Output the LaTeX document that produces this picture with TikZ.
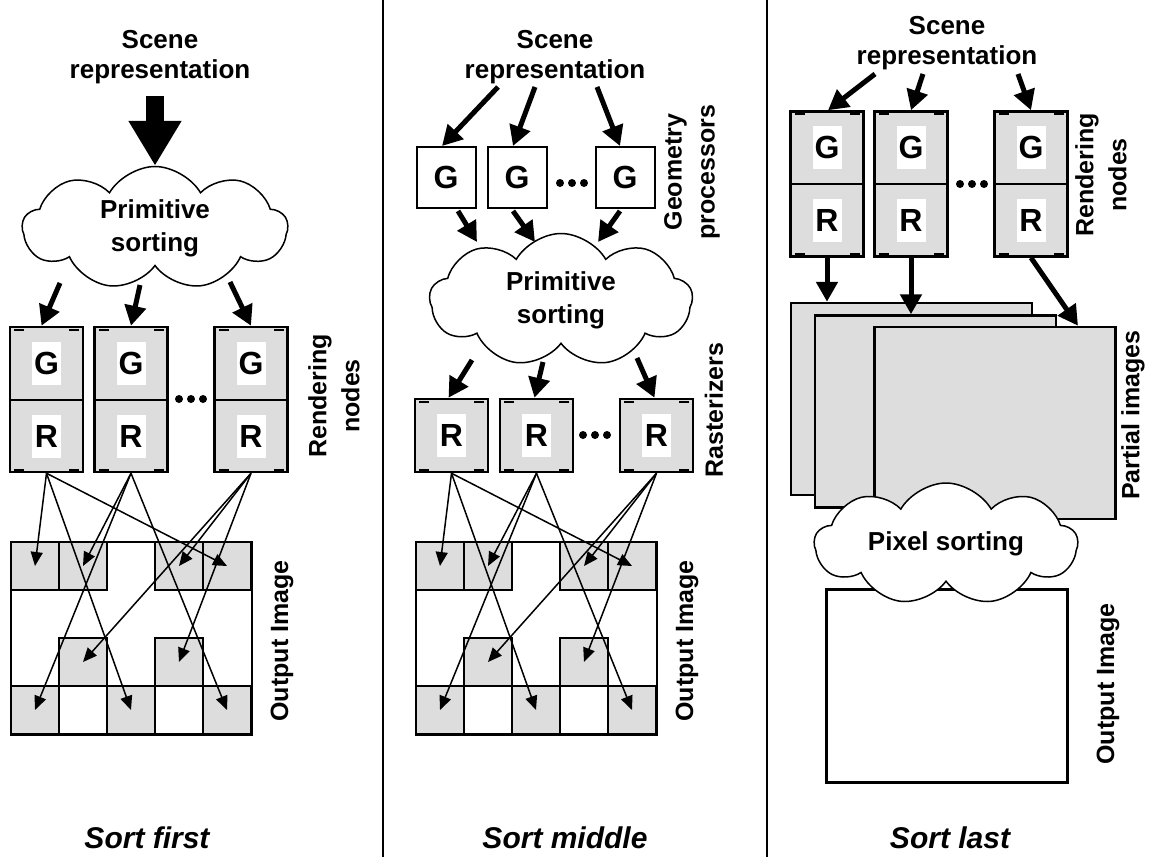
\documentclass[tikz,border=0pt]{standalone}
\usepackage{fontspec}
\setmainfont{Liberation Sans}
\usetikzlibrary{arrows.meta,shapes.symbols,calc}
\definecolor{boxgray}{HTML}{DDDDDD}

\tikzset{
    txt/.style={font=\fontsize{26}{30}\selectfont\bfseries, align=center, inner sep=0pt},
    side/.style={font=\fontsize{25}{33}\selectfont\bfseries, align=center, rotate=90, inner sep=0pt},
    caption/.style={font=\fontsize{30}{30}\selectfont\bfseries\itshape, inner sep=0pt},
    letter/.style={fill=white, font=\fontsize{32}{32}\selectfont\bfseries, minimum width=29pt, minimum height=43pt, inner sep=0pt},
    unit/.style={draw, line width=2.5pt, fill=boxgray, minimum width=73pt, minimum height=145pt, inner sep=0pt,
        path picture={\draw[line width=2pt]
            ([shift={(4pt,-2.5pt)}]path picture bounding box.north west) -- ++(10pt,0pt)
            ([shift={(-4pt,-2.5pt)}]path picture bounding box.north east) -- ++(-10pt,0pt)
            ([shift={(4pt,2.5pt)}]path picture bounding box.south west) -- ++(10pt,0pt)
            ([shift={(-4pt,2.5pt)}]path picture bounding box.south east) -- ++(-10pt,0pt);}},
    rbox/.style={unit, minimum height=73pt},
    gbox/.style={draw, line width=2pt, fill=white, minimum width=59pt, minimum height=61pt, inner sep=0pt,
        font=\fontsize{32}{32}\selectfont\bfseries},
    cell/.style={draw, line width=1.8pt, fill=boxgray, minimum size=48pt, inner sep=0pt},
    wcell/.style={cell, fill=white},
    frame/.style={draw, line width=2.5pt, minimum width=241pt, minimum height=193pt, inner sep=0pt},
    sheet/.style={draw, line width=2.5pt, fill=boxgray, minimum width=241pt, minimum height=192pt, inner sep=0pt},
    puff/.style={cloud, draw, line width=1.5pt, fill=white, cloud puffs=9, cloud puff arc=120, cloud ignores aspect,
        font=\fontsize{26}{33}\selectfont\bfseries, align=center},
    fat/.style={-{Triangle[length=20pt,width=21pt]}, line width=5pt},
    huge/.style={-{Triangle[length=45pt,width=50pt]}, line width=18pt},
    fan/.style={-{Triangle[length=14pt,width=12pt]}, line width=1.5pt},
    divider/.style={line width=1.5pt}
}

\begin{document}
\begin{tikzpicture}[x=1pt, y=-1pt]
    \useasboundingbox (0,0) rectangle (1151,857);

    % Trennlinien
    \draw[divider] (383,0) -- (383,857);
    \draw[divider] (767,0) -- (767,857);

    %%% Sort first
    \node[txt] (sa) at (160,57) {Scene\\representation};
    \node[puff, minimum width=265pt, minimum height=123pt] (ca) at (155,228) {Primitive\\sorting};
    \draw[huge] ($(sa.south)+(-5,12)$) -- (ca.north);

    \node[unit] (ra1) at (46.5,399.5) {};
    \node[unit] (ra2) at (131,399.5) {};
    \node[unit] (ra3) at (251,399.5) {};
    \foreach \n in {ra1,ra2,ra3} {
        \draw[line width=2pt] (\n.west) -- (\n.east);
        \node[letter] at ($(\n.center)+(0,-36.5)$) {G};
        \node[letter] at ($(\n.center)+(0,36.5)$) {R};
    }
    \coordinate (dotsa) at (191,399);
    \foreach \d in {-12,0,12} \fill ($(dotsa)+(\d,0)$) circle (4pt);

    \draw[fat] ($(ca.center)+(-95,55)$) -- ([xshift=-5pt]ra1.north);
    \draw[fat] ($(ca.center)+(-15,57)$) -- (ra2.north);
    \draw[fat] ($(ca.center)+(75,54)$) -- (ra3.north);

    \node[side] at (334,396) {Rendering\\nodes};

    %%% Sort middle
    \node[txt] (sb) at (555,57) {Scene\\representation};
    \node[gbox] (gb1) at (446,177.5) {G};
    \node[gbox] (gb2) at (517,177.5) {G};
    \node[gbox] (gb3) at (625,177.5) {G};
    \coordinate (dotsb) at (572,183);
    \foreach \d in {-12,0,12} \fill ($(dotsb)+(\d,0)$) circle (4pt);

    \draw[fat] ($(sb.south)+(-57,3)$) -- ([xshift=-4pt]gb1.north);
    \draw[fat] ($(sb.south)+(-20,3)$) -- ([xshift=-4pt]gb2.north);
    \draw[fat] ($(sb.south)+(42,3)$) -- ([xshift=-5pt]gb3.north);

    \node[side] at (692,172) {Geometry\\processors};

    \node[puff, minimum width=263pt, minimum height=133pt] (cb) at (561,300) {Primitive\\sorting};
    \draw[fat] ($(gb1.south)+(12,2)$) -- ($(cb.center)+(-84,-58)$);
    \draw[fat] ($(gb2.south)+(-4,2)$) -- ($(cb.center)+(-26,-58)$);
    \draw[fat] ($(gb3.south)+(-5,2)$) -- ($(cb.center)+(37,-58)$);

    \node[rbox] (rb1) at (451.5,435.5) {};
    \node[rbox] (rb2) at (536.5,435.5) {};
    \node[rbox] (rb3) at (656.5,435.5) {};
    \foreach \n in {rb1,rb2,rb3}
        \node[letter] at (\n.center) {R};
    \coordinate (dotsc) at (595,435);
    \foreach \d in {-12,0,12} \fill ($(dotsc)+(\d,0)$) circle (4pt);

    \draw[fat] ($(cb.center)+(-89,60)$) -- ([xshift=-3pt]rb1.north);
    \draw[fat] ($(cb.center)+(-18,62)$) -- ([xshift=-2pt]rb2.north);
    \draw[fat] ($(cb.center)+(76,58)$) -- ([xshift=-2pt]rb3.north);

    \node[side] at (714,410) {Rasterizers};

    % Ausgabebilder (Sort first / Sort middle)
    \foreach \p/\dx in {a/0, b/405} {
        \foreach \r/\c in {0/0,0/1,0/3,0/4,2/1,2/3,3/0,3/2,3/4}
            \node[cell] (\p-\r-\c) at (35+48*\c+\dx, 566+48*\r) {};
        \foreach \r/\c in {3/1,3/3}
            \node[wcell] (\p-\r-\c) at (35+48*\c+\dx, 566+48*\r) {};
        \node[frame] (out\p) at (131.5+\dx, 638.5) {};

        \draw[fan] (r\p1.south) -- (\p-0-0.center);
        \draw[fan] (r\p1.south) -- (\p-3-2.center);
        \draw[fan] (r\p1.south) -- (\p-0-4.center);
        \draw[fan] (r\p2.south) -- (\p-0-1.center);
        \draw[fan] (r\p2.south) -- (\p-3-0.center);
        \draw[fan] (r\p2.south) -- (\p-3-4.center);
        \draw[fan] (r\p3.south) -- (\p-0-3.center);
        \draw[fan] (r\p3.south) -- (\p-2-1.center);
        \draw[fan] (r\p3.south) -- (\p-2-3.center);

        \node[side] at (282+\dx,641) {Output Image};
    }

    %%% Sort last
    \node[txt] (sc) at (947,43) {Scene\\representation};
    \node[unit] (rc1) at (827,184) {};
    \node[unit] (rc2) at (911,184) {};
    \node[unit] (rc3) at (1031,184) {};
    \foreach \n in {rc1,rc2,rc3} {
        \draw[line width=2pt] (\n.west) -- (\n.east);
        \node[letter] at ($(\n.center)+(0,-36.5)$) {G};
        \node[letter] at ($(\n.center)+(0,36.5)$) {R};
    }
    \coordinate (dotsd) at (972,184);
    \foreach \d in {-12,0,12} \fill ($(dotsd)+(\d,0)$) circle (4pt);

    \draw[fat] ($(sc.south)+(-72,4)$) -- ([xshift=1pt]rc1.north);
    \draw[fat] ($(sc.south)+(-24,4)$) -- (rc2.north);
    \draw[fat] ($(sc.south)+(71,4)$) -- (rc3.north);

    \node[side] at (1101,175) {Rendering\\nodes};

    \node[sheet] (pa) at (911.5,399) {};
    \node[sheet] (pb) at (935.5,411.5) {};
    \node[sheet] (pc) at (995,423) {};
    \draw[fat] (rc1.south) -- (rc1.south |- pa.north);
    \draw[fat] (rc2.south) -- (rc2.south |- pb.north);
    \draw[fat] (rc3.south) -- ($(pc.north)+(83,0)$);

    \node[side] at (1133,415) {Partial images};

    \node[frame, fill=white] (outc) at (947,686) {};
    \node[puff, minimum width=263pt, minimum height=122pt] (cc) at (946,544) {Pixel sorting};

    \node[side] at (1108,684) {Output Image};

    % Beschriftung
    \node[caption] at (147,838) {Sort first};
    \node[caption] at (565,838) {Sort middle};
    \node[caption] at (950,838) {Sort last};
\end{tikzpicture}
\end{document}
